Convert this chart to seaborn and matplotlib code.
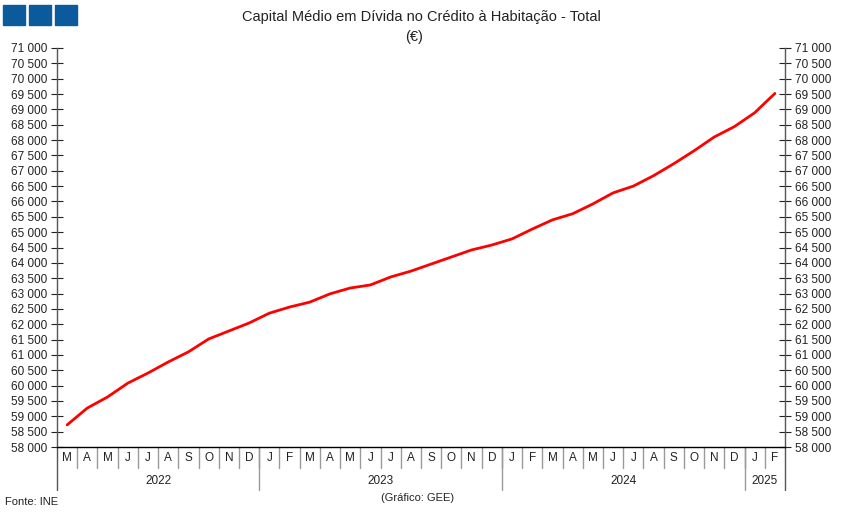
import numpy as np
import pandas as pd
import seaborn as sns
import matplotlib.pyplot as plt
from matplotlib.transforms import blended_transform_factory
from matplotlib.patches import Rectangle

months = ['M', 'A', 'M', 'J', 'J', 'A', 'S', 'O', 'N', 'D',
          'J', 'F', 'M', 'A', 'M', 'J', 'J', 'A', 'S', 'O', 'N', 'D',
          'J', 'F', 'M', 'A', 'M', 'J', 'J', 'A', 'S', 'O', 'N', 'D',
          'J', 'F']
years = ['2022', '2023', '2024', '2025']
year_counts = [10, 12, 12, 2]
capital = [58720, 59270, 59630, 60080, 60410, 60770, 61100, 61520, 61780, 62040,
           62360, 62560, 62720, 62990, 63180, 63280, 63540, 63730, 63960, 64190,
           64420, 64580, 64780, 65100, 65400, 65600, 65920, 66280, 66500, 66840,
           67230, 67650, 68100, 68440, 68890, 69520]

df = pd.DataFrame({'pos': np.arange(len(capital)), 'valor': capital})

sns.set_style('white')
plt.rcParams['font.family'] = ['Liberation Sans', 'DejaVu Sans']

fig = plt.figure(figsize=(8.43, 5.18), dpi=100)
ax = fig.add_axes([57 / 843, 1 - 447 / 518, 728 / 843, 399 / 518])

sns.lineplot(data=df, x='pos', y='valor', ax=ax, color='#ff0000', linewidth=2.0)

ax.set_xlim(-0.5, len(capital) - 0.5)
ax.set_ylim(58000, 71000)
yt = np.arange(58000, 71001, 500)
ax.set_yticks(yt)
ax.set_yticklabels([f'{v:,}'.replace(',', ' ') for v in yt])
ax.tick_params(axis='y', which='both', direction='inout', length=8, width=0.8,
               labelsize=8.5, left=True, right=True, labelleft=True, labelright=True,
               colors='#222222', pad=3)
ax.set_xticks([])
ax.set_xlabel('')
ax.set_ylabel('')

for side in ['top']:
    ax.spines[side].set_visible(False)
ax.spines['left'].set_color('#555555')
ax.spines['right'].set_color('#555555')
ax.spines['bottom'].set_color('#000000')
for s in ['left', 'right', 'bottom']:
    ax.spines[s].set_linewidth(1.0)

tr = blended_transform_factory(ax.transData, ax.transAxes)
short = -21 / 399
long_ = -43 / 399
for i, m in enumerate(months):
    ax.text(i, -11 / 399, m, transform=tr, ha='center', va='center', fontsize=8.5, color='#222222')
for b in range(1, len(months)):
    ax.plot([b - 0.5, b - 0.5], [0, short], transform=tr, color='#999999', lw=1, clip_on=False)

start = 0
bounds = [-0.5]
for y, c in zip(years, year_counts):
    ax.text(start + c / 2 - 0.5, -34 / 399, y, transform=tr, ha='center', va='center',
            fontsize=8.5, color='#222222')
    start += c
    bounds.append(start - 0.5)
for b in bounds:
    col = '#555555' if b in (bounds[0], bounds[-1]) else '#999999'
    ax.plot([b, b], [0, long_], transform=tr, color=col, lw=1, clip_on=False)

fig.text(421 / 843, 1 - 17 / 518, 'Capital Médio em Dívida no Crédito à Habitação - Total',
         ha='center', va='center', fontsize=10.5, color='#222222')
fig.text(414 / 843, 1 - 37 / 518, '(€)', ha='center', va='center', fontsize=10.5, color='#222222')
fig.text(5 / 843, 1 - 502 / 518, 'Fonte: INE', ha='left', va='center', fontsize=8, color='#222222')
fig.text(418 / 843, 1 - 498 / 518, '(Gráfico: GEE)', ha='center', va='center', fontsize=8, color='#222222')

for x0 in [3, 29, 55]:
    fig.patches.append(Rectangle((x0 / 843, 1 - 25 / 518), 22 / 843, 20 / 518,
                                 transform=fig.transFigure, color='#0a5a9c', zorder=5))

fig.savefig('out.png', dpi=100)
